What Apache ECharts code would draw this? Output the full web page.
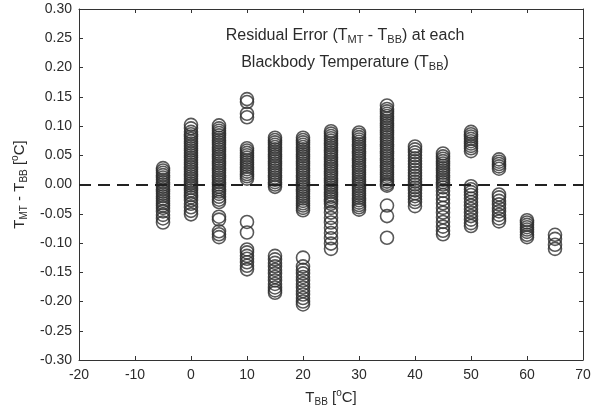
<!DOCTYPE html>
<html>
<head>
<meta charset="utf-8">
<script src="https://cdn.jsdelivr.net/npm/echarts@6/dist/echarts.min.js"></script>
<style>
  html, body { margin: 0; background: #fff; }
  #chart { width: 600px; height: 412px; }
</style>
</head>
<body>
<div id="chart"></div>
<script>
// blackbody set-points (deg C)
const temps = [-5, 0, 5, 10, 15, 20, 25, 30, 35, 40, 45, 50, 55, 60, 65];

// residual error T_MT - T_BB (deg C)
const resM5 = [0.028, 0.024, 0.020, 0.016, 0.012, 0.008, 0.004, 0.000, -0.004, -0.008, -0.012, -0.016, -0.020, -0.024, -0.028, -0.032, -0.036, -0.040, -0.046, -0.052, -0.058, -0.065];
const res0 = [0.102, 0.096, 0.090, 0.086, 0.082, 0.078, 0.074, 0.070, 0.066, 0.062, 0.058, 0.054, 0.050, 0.046, 0.042, 0.038, 0.034, 0.030, 0.026, 0.022, 0.018, 0.014, 0.010, 0.006, 0.002, -0.002, -0.006, -0.010, -0.014, -0.018, -0.022, -0.027, -0.033, -0.039, -0.045, -0.051];
const res5 = [0.101, 0.096, 0.092, 0.088, 0.084, 0.080, 0.076, 0.072, 0.068, 0.064, 0.060, 0.056, 0.052, 0.048, 0.044, 0.040, 0.036, 0.032, 0.028, 0.024, 0.020, 0.016, 0.012, 0.008, 0.004, 0.000, -0.004, -0.008, -0.012, -0.016, -0.021, -0.026, -0.030, -0.055, -0.060, -0.080, -0.085, -0.090];
const res10 = [0.146, 0.141, 0.121, 0.115, 0.062, 0.058, 0.054, 0.050, 0.046, 0.042, 0.038, 0.034, 0.030, 0.026, 0.022, 0.018, 0.014, 0.010, -0.064, -0.082, -0.111, -0.116, -0.122, -0.127, -0.133, -0.139, -0.145];
const res15 = [0.080, 0.076, 0.072, 0.068, 0.064, 0.060, 0.056, 0.052, 0.048, 0.044, 0.040, 0.036, 0.032, 0.028, 0.024, 0.020, 0.016, 0.012, 0.008, 0.004, 0.000, -0.004, -0.122, -0.128, -0.134, -0.140, -0.146, -0.152, -0.158, -0.164, -0.170, -0.176, -0.181, -0.185];
const res20 = [0.080, 0.076, 0.072, 0.068, 0.064, 0.060, 0.056, 0.052, 0.048, 0.044, 0.040, 0.036, 0.032, 0.028, 0.024, 0.020, 0.016, 0.012, 0.008, 0.004, 0.000, -0.004, -0.008, -0.012, -0.016, -0.020, -0.024, -0.028, -0.032, -0.036, -0.040, -0.044, -0.125, -0.140, -0.146, -0.152, -0.158, -0.164, -0.170, -0.176, -0.182, -0.188, -0.194, -0.200, -0.205];
const res25 = [0.091, 0.087, 0.083, 0.079, 0.075, 0.071, 0.067, 0.063, 0.059, 0.055, 0.051, 0.047, 0.043, 0.039, 0.035, 0.031, 0.027, 0.023, 0.019, 0.015, 0.011, 0.007, 0.003, -0.001, -0.005, -0.009, -0.013, -0.017, -0.021, -0.025, -0.029, -0.033, -0.040, -0.048, -0.057, -0.065, -0.074, -0.083, -0.092, -0.101, -0.110];
const res30 = [0.089, 0.085, 0.081, 0.077, 0.073, 0.069, 0.065, 0.061, 0.057, 0.053, 0.049, 0.045, 0.041, 0.037, 0.033, 0.029, 0.025, 0.021, 0.017, 0.013, 0.009, 0.005, 0.001, -0.003, -0.007, -0.011, -0.015, -0.019, -0.023, -0.027, -0.031, -0.035, -0.039, -0.043];
const res35 = [0.135, 0.129, 0.125, 0.121, 0.117, 0.113, 0.109, 0.105, 0.101, 0.097, 0.093, 0.089, 0.085, 0.081, 0.077, 0.073, 0.069, 0.065, 0.061, 0.057, 0.053, 0.049, 0.045, 0.041, 0.037, 0.033, 0.029, 0.025, 0.021, 0.017, 0.013, 0.009, 0.005, 0.001, -0.002, -0.036, -0.054, -0.091];
const res40 = [0.065, 0.060, 0.055, 0.050, 0.045, 0.040, 0.035, 0.030, 0.025, 0.020, 0.015, 0.010, 0.005, 0.000, -0.005, -0.010, -0.015, -0.020, -0.025, -0.030, -0.037];
const res45 = [0.053, 0.048, 0.044, 0.040, 0.036, 0.032, 0.028, 0.024, 0.020, 0.016, 0.012, 0.008, 0.004, 0.000, -0.005, -0.011, -0.018, -0.025, -0.032, -0.040, -0.048, -0.056, -0.064, -0.072, -0.079, -0.085];
const res50 = [0.090, 0.086, 0.082, 0.078, 0.074, 0.070, 0.066, 0.062, 0.057, -0.003, -0.008, -0.013, -0.018, -0.024, -0.030, -0.036, -0.042, -0.048, -0.054, -0.060, -0.066, -0.071];
const res55 = [0.043, 0.039, 0.035, 0.031, 0.027, -0.017, -0.022, -0.028, -0.034, -0.040, -0.046, -0.052, -0.058, -0.063];
const res60 = [-0.061, -0.065, -0.069, -0.073, -0.077, -0.081, -0.086, -0.090];
const res65 = [-0.086, -0.093, -0.103, -0.110];

const residuals = [resM5, res0, res5, res10, res15, res20, res25, res30, res35, res40, res45, res50, res55, res60, res65];

// axis ticks
const xTicks = { min: -20, max: 70, step: 10 };
const yTicks = { min: -0.3, max: 0.3, step: 0.05 };

// pair each residual with its set-point
const points = [];
temps.forEach((t, i) => {
  residuals[i].forEach(r => points.push([t, r]));
});

const FONT = "Liberation Sans, Arial, sans-serif";
const INK = "#2b2b2b";

// normal text, subscript and superscript pieces
const rich = {
  n: { fontSize: 15, fontWeight: "normal", fontFamily: FONT, color: INK },
  s: { fontSize: 10, fontWeight: "normal", fontFamily: FONT, color: INK, padding: [9, 0, 0, 0] },
  p: { fontSize: 10, fontWeight: "normal", fontFamily: FONT, color: INK, padding: [0, 0, 8, 0] },
};
const titleRich = {
  n: { fontSize: 16, fontWeight: "normal", fontFamily: FONT, color: INK },
  s: { fontSize: 11, fontWeight: "normal", fontFamily: FONT, color: INK, padding: [9, 0, 0, 0] },
};

const axisBase = {
  type: "value",
  axisLine: { show: true, onZero: false, lineStyle: { color: "#333", width: 1 } },
  axisTick: { show: true, inside: true, length: 4, lineStyle: { color: "#333" } },
  splitLine: { show: false },
};

const chart = echarts.init(document.getElementById("chart"));
chart.setOption({
  animation: false,
  backgroundColor: "#fff",
  grid: { left: 79, right: 17, top: 9, bottom: 51 },
  title: {
    text: "{n|Residual Error (T}{s|MT}{n| - T}{s|BB}{n|) at each}\n{n|Blackbody Temperature (T}{s|BB}{n|)}",
    left: 340,
    top: 17,
    textAlign: "center",
    textStyle: { rich: titleRich, fontWeight: "normal", lineHeight: 27 },
  },
  xAxis: [
    Object.assign({}, axisBase, {
      position: "bottom",
      min: xTicks.min, max: xTicks.max, interval: xTicks.step,
      axisLabel: { margin: 8, fontSize: 14, fontFamily: FONT, color: INK },
      name: "{n|T}{s|BB}{n| [}{p|o}{n|C]}",
      nameLocation: "middle",
      nameGap: 28,
      nameTextStyle: { rich: rich },
    }),
    Object.assign({}, axisBase, {
      position: "top",
      min: xTicks.min, max: xTicks.max, interval: xTicks.step,
      axisLabel: { show: false },
    }),
  ],
  yAxis: [
    Object.assign({}, axisBase, {
      position: "left",
      min: yTicks.min, max: yTicks.max, interval: yTicks.step,
      axisLabel: {
        margin: 7, fontSize: 14, fontFamily: FONT, color: INK,
        formatter: v => v.toFixed(2),
      },
      name: "{n|T}{s|MT}{n| - T}{s|BB}{n| [}{p|o}{n|C]}",
      nameLocation: "middle",
      nameGap: 39,
      nameRotate: 90,
      nameTextStyle: { rich: rich },
    }),
    Object.assign({}, axisBase, {
      position: "right",
      min: yTicks.min, max: yTicks.max, interval: yTicks.step,
      axisLabel: { show: false },
    }),
  ],
  series: [
    {
      type: "scatter",
      data: points,
      symbol: "circle",
      symbolSize: 13,
      itemStyle: { color: "rgba(0,0,0,0)", borderColor: "#2e2e2e", borderWidth: 1.6 },
      emphasis: { disabled: true },
      markLine: {
        silent: true,
        symbol: ["none", "none"],
        label: { show: false },
        lineStyle: { type: [12, 7], color: "#222", width: 2 },
        data: [{ yAxis: 0 }],
      },
    },
  ],
});
</script>
</body>
</html>
